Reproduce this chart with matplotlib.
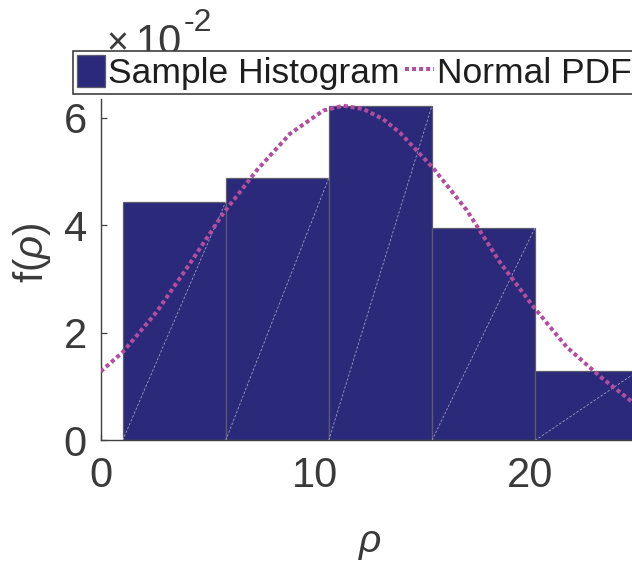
import matplotlib
matplotlib.use('Agg')
import matplotlib.pyplot as plt


# histogram (density, shown in units of 1e-2)
bin_edges = [1.02, 5.82, 10.62, 15.43, 20.23, 25.03]
density = [0.0443, 0.0487, 0.0622, 0.0395, 0.0129]

# normal pdf, points
pdf_x = [0.0, 1.05, 2.61, 4.16, 5.71, 7.27, 8.82, 10.37, 11.30, 12.23,
         13.16, 13.94, 15.49, 17.05, 18.60, 20.15, 21.70, 23.26, 24.75]
pdf_y = [0.0128, 0.0165, 0.0239, 0.0329, 0.0422, 0.0502, 0.0570, 0.0613,
         0.0622, 0.0616, 0.0597, 0.0572, 0.0506, 0.0428, 0.0331, 0.0249,
         0.0174, 0.0119, 0.0072]

y_ticks = [0, 2, 4, 6]
x_ticks = [0, 10, 20]
SCALE = 1e2

BAR_COLOR = '#2B2979'
PDF_COLOR = '#B24E9F'
TEXT_COLOR = '#3a3a3a'

plt.rcParams['font.family'] = ['Liberation Sans', 'DejaVu Sans']
plt.rcParams['mathtext.fontset'] = 'custom'
plt.rcParams['mathtext.rm'] = 'Liberation Sans'
plt.rcParams['mathtext.it'] = 'Liberation Sans:italic'

fig = plt.figure(figsize=(6.32, 5.65), dpi=100)
ax = fig.add_axes([0.1593, 0.2204, 0.8407, 0.6039])

lefts = bin_edges[:-1]
widths = [b - a for a, b in zip(bin_edges[:-1], bin_edges[1:])]
heights = [d * SCALE for d in density]

bars = ax.bar(lefts, heights, width=widths, align='edge', color=BAR_COLOR,
              edgecolor='#5c5c6c', linewidth=0.9, label='Sample Histogram',
              zorder=1)

# faint rendering seams running across each bar
for x0, w, h in zip(lefts, widths, heights):
    ax.plot([x0, x0 + w], [0, h], color='white', alpha=0.55, lw=0.6,
            ls=(0, (3, 2)), zorder=1.5)

pdf_line, = ax.plot(pdf_x, [v * SCALE for v in pdf_y], color=PDF_COLOR,
                    lw=2.9, dashes=(1, 0.75), dash_capstyle='butt',
                    label='Normal PDF', zorder=3)

ax.set_xlim(0, 24.75)
ax.set_ylim(0, 6.34)
ax.set_xticks(x_ticks)
ax.set_yticks(y_ticks)
ax.set_axisbelow(True)

ax.tick_params(axis='both', direction='in', length=4.5, width=0.9,
               color='#404040', labelsize=30, labelcolor=TEXT_COLOR)
ax.tick_params(axis='x', pad=11)
ax.tick_params(axis='y', pad=10)

for side in ['top', 'right']:
    ax.spines[side].set_visible(False)
for side in ['left', 'bottom']:
    ax.spines[side].set_color('#404040')
    ax.spines[side].set_linewidth(1.0)

ax.set_xlabel(r'$\rho$', fontsize=28, color=TEXT_COLOR)
ax.xaxis.set_label_coords(0.507, -0.25)
ax.set_ylabel(r'f($\rho$)', fontsize=29, color=TEXT_COLOR)
ax.yaxis.set_label_coords(-0.09, 0.55)

# exponent label, partly hidden behind the legend
ax.text(106 / 632, 1 - 54 / 565, '\u00d7', transform=fig.transFigure,
        fontsize=27, color=TEXT_COLOR, ha='left', va='baseline',
        clip_on=False, zorder=1)
ax.text(136 / 632, 1 - 54 / 565, '10', transform=fig.transFigure,
        fontsize=30, color=TEXT_COLOR, ha='left', va='baseline',
        clip_on=False, zorder=1)
ax.text(184 / 632, 1 - 31 / 565, '-2', transform=fig.transFigure,
        fontsize=23, color=TEXT_COLOR, ha='left', va='baseline',
        clip_on=False, zorder=1)

leg = ax.legend([bars, pdf_line], ['Sample Histogram', 'Normal PDF'],
                loc='upper left', bbox_to_anchor=(72.7 / 632, 1 - 50.7 / 565),
                bbox_transform=fig.transFigure, ncol=2, fontsize=25.5,
                handlelength=0.8, handleheight=1.02, handletextpad=0.1,
                columnspacing=0.15, borderpad=0.11, borderaxespad=0,
                fancybox=False, framealpha=1, edgecolor='#404040')
leg.get_frame().set_linewidth(1.2)
leg.set_zorder(10)
for t in leg.get_texts():
    t.set_color('#1e1e1e')

fig.savefig('out.png', dpi=100)
